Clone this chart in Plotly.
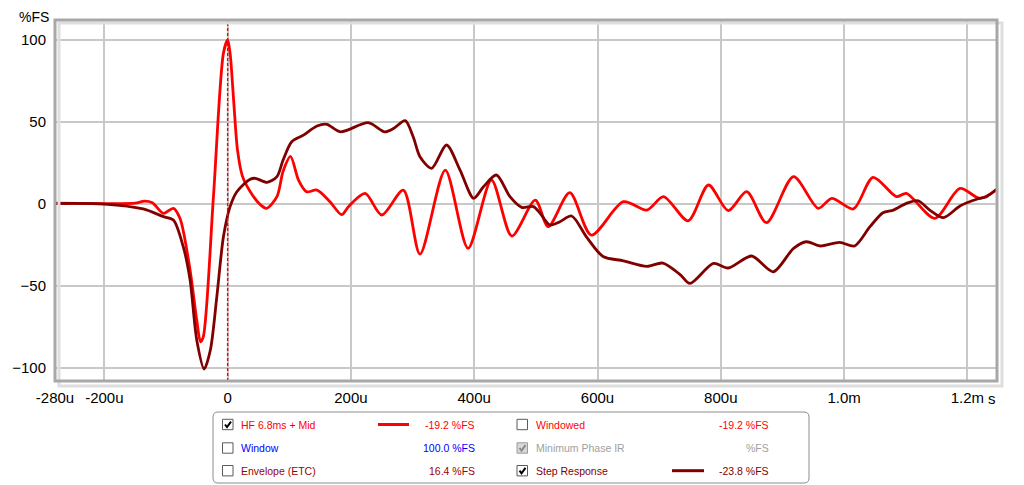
import plotly.graph_objects as go

# ---- data (time in microseconds, amplitude in %FS) ----
impulse_t = [-280, -200, -150, -135, -122, -104, -88, -77, -61, -50, -44, -39.5,
             -23, -6.8, 0, 4, 10, 16, 24, 36, 52, 63, 80, 90, 102, 115, 128, 145,
             166, 185, 196, 223, 250, 285, 312, 353, 390, 428, 461, 499, 520, 555,
             590, 642, 680, 707, 747, 780, 812, 842, 874, 918, 958, 980, 1015, 1047,
             1085, 1101, 1147, 1188, 1220, 1247]
impulse_v = [0.5, 0.3, 0.5, 1.8, 0.8, -5.7, -2.6, -9, -40, -71, -84, -81,
             4.5, 92, 100, 92, 62, 33, 17, 8, 0, -2.6, 4.5, 20, 29, 14.6, 7.5, 8.5,
             1.4, -6.5, -1.6, 6.5, -6.7, 8.5, -30.5, 20.7, -27, 14.6, -19.5, 2.4, -13.8, 6.9,
             -18.9, 1.4, -3.7, 4.5, -10.2, 11.6, -4, 7.5, -11.4, 16.7, -2.6, 3.5, -3, 16.3,
             4.5, 6.5, -8.7, 9.5, 3.5, 8.5]

step_t = [-280, -200, -137, -104, -88, -72, -61, -50, -38, -28, -17.5, -6.8, 4, 15,
          36, 45, 64, 80, 90, 104, 123, 145, 161, 183, 228, 255, 269, 288, 301, 312,
          331, 355, 377, 399, 415, 436, 458, 477, 496, 507, 523, 539, 558, 582, 609,
          642, 680, 706, 734, 750, 788, 812, 850, 885, 918, 939, 961, 993, 1017, 1042,
          1063, 1080, 1101, 1120, 1139, 1161, 1188, 1215, 1231, 1247]
step_v = [0.3, 0, -3, -7.7, -9.8, -26, -46, -83, -100.6, -89, -56.5, -20, -1.6, 7.5,
          15, 15.7, 13.2, 16.7, 26.8, 38, 42, 47.6, 48.6, 44, 49.6, 44, 46, 50.8, 41, 28.8,
          21.8, 36, 20.7, 3.5, 10.5, 17.7, 4.5, -2, -1.6, -5.7, -12.8, -10.8, -7.3, -20, -32,
          -34.6, -38, -36, -43, -48.4, -36.2, -39, -31.7, -41.3, -27, -23, -25.6, -23.4, -25.6, -13.8,
          -5.3, -3.7, 0.4, 2, -3.7, -8.3, -1.2, 2.9, 4.5, 9]

x_tickvals = [-280, -200, 0, 200, 400, 600, 800, 1000, 1200]
x_ticktext = ["-280u", "-200u", "0", "200u", "400u", "600u", "800u", "1.0m", "1.2m"]
y_tickvals = [-100, -50, 0, 50, 100]

legend_rows = [
    # name, value, color, checked, column
    ("HF 6.8ms + Mid", "-19.2 %FS", "#ff0000", True, 0),
    ("Window", "100.0 %FS", "#0000ff", False, 0),
    ("Envelope (ETC)", "16.4 %FS", "#a00000", False, 0),
    ("Windowed", "-19.2 %FS", "#ff0000", False, 1),
    ("Minimum Phase IR", "%FS", "#a0a0a0", True, 1),
    ("Step Response", "-23.8 %FS", "#800000", True, 1),
]

# the page body adds an 8px margin, so the figure is drawn 8px smaller
# and all screen positions below are given in window pixels
OFF = 8
W, H = 1024 - OFF, 485 - OFF
L, R, T, B = 55 - OFF, 27, 20 - OFF, 104
PW, PH = W - L - R, H - T - B
FONT = "Liberation Sans, Arial, sans-serif"


def px(x):
    return (x - OFF - L) / PW


def py(y):
    return (H - B - (y - OFF)) / PH


fig = go.Figure()
fig.add_trace(go.Scatter(x=impulse_t, y=impulse_v, mode="lines",
                         line=dict(color="#ff0000", width=2.8, shape="spline", smoothing=0.8),
                         hoverinfo="skip"))
fig.add_trace(go.Scatter(x=step_t, y=step_v, mode="lines",
                         line=dict(color="#800000", width=2.8, shape="spline", smoothing=0.8),
                         hoverinfo="skip"))

shapes = []
# hide the grid line under the cursor, then the cursor at t=0
shapes.append(dict(type="line", xref="x", yref="paper", x0=0, x1=0, y0=0, y1=1,
                   layer="below", line=dict(color="white", width=2)))
shapes.append(dict(type="line", xref="x", yref="paper", x0=0, x1=0, y0=0, y1=1,
                   line=dict(color="#ff0000", width=1.4, dash="3px,2px")))
# plot frame with soft shadow
shapes.append(dict(type="rect", xref="paper", yref="paper", x0=px(59), x1=px(1002),
                   y0=py(386), y1=py(23), line=dict(color="#dedede", width=3)))
shapes.append(dict(type="rect", xref="paper", yref="paper", x0=0, x1=1, y0=0, y1=1,
                   line=dict(color="#a8a8a8", width=3)))

# legend panel
bx0, bx1, by0, by1, r = 213, 809, 412, 483, 5
path = (f"M {px(bx0 + r)},{py(by0)} L {px(bx1 - r)},{py(by0)} "
        f"Q {px(bx1)},{py(by0)} {px(bx1)},{py(by0 + r)} L {px(bx1)},{py(by1 - r)} "
        f"Q {px(bx1)},{py(by1)} {px(bx1 - r)},{py(by1)} L {px(bx0 + r)},{py(by1)} "
        f"Q {px(bx0)},{py(by1)} {px(bx0)},{py(by1 - r)} L {px(bx0)},{py(by0 + r)} "
        f"Q {px(bx0)},{py(by0)} {px(bx0 + r)},{py(by0)} Z")
shapes.append(dict(type="path", xref="paper", yref="paper", path=path,
                   line=dict(color="#8c8c8c", width=1), fillcolor="white", layer="below"))

annotations = []
row_y = [424.5, 448, 470.7]
col_box = [222.5, 517]
col_text = [239, 533.5]
col_val = [476.5, 770.5]
for i, (name, val, color, checked, col) in enumerate(legend_rows):
    y = row_y[i % 3]
    cx = col_box[col]
    gray = name == "Minimum Phase IR"
    shapes.append(dict(type="rect", xref="paper", yref="paper",
                       x0=px(cx), x1=px(cx + 10.5), y0=py(y + 5.2), y1=py(y - 5.2),
                       line=dict(color="#9a9a9a" if gray else "#5a5a5a", width=1),
                       fillcolor="#d8d8d8" if gray else "white"))
    if checked:
        ck = (f"M {px(cx + 2.5)},{py(y)} L {px(cx + 4.5)},{py(y + 2.6)} "
              f"L {px(cx + 8.5)},{py(y - 2.8)}")
        shapes.append(dict(type="path", xref="paper", yref="paper", path=ck,
                           line=dict(color="#8a8a8a" if gray else "#000000", width=2)))
    annotations.append(dict(x=px(col_text[col]), y=py(y), xref="paper", yref="paper",
                            text=name, showarrow=False, xanchor="left", yanchor="middle",
                            font=dict(family=FONT, size=10.5, color=color)))
    annotations.append(dict(x=px(col_val[col]), y=py(y), xref="paper", yref="paper",
                            text=val, showarrow=False, xanchor="right", yanchor="middle",
                            font=dict(family=FONT, size=10.5, color=color)))

# legend line samples
shapes.append(dict(type="line", xref="paper", yref="paper", x0=px(378), x1=px(409),
                   y0=py(424.5), y1=py(424.5), line=dict(color="#ff0000", width=3)))
shapes.append(dict(type="line", xref="paper", yref="paper", x0=px(672), x1=px(704),
                   y0=py(470.7), y1=py(470.7), line=dict(color="#800000", width=3)))

# axis unit labels
annotations.append(dict(x=px(17), y=py(7), xref="paper", yref="paper", text="%FS",
                        showarrow=False, xanchor="left", yanchor="top",
                        font=dict(family=FONT, size=14, color="#000000")))
annotations.append(dict(x=px(986), y=py(398), xref="paper", yref="paper", text="s",
                        showarrow=False, xanchor="left", yanchor="middle",
                        font=dict(family=FONT, size=15, color="#000000")))

fig.update_layout(
    width=W, height=H,
    margin=dict(l=L, r=R, t=T, b=B, autoexpand=False),
    paper_bgcolor="white", plot_bgcolor="white",
    showlegend=False,
    shapes=shapes, annotations=annotations,
    font=dict(family=FONT, size=15, color="#000000"),
)
fig.update_xaxes(range=[-280, 1248], tickvals=x_tickvals, ticktext=x_ticktext,
                 showgrid=True, gridcolor="#c8c8c8", gridwidth=1.5, zeroline=False,
                 showline=False, ticks="", ticklabelstandoff=6, automargin=False,
                 tickfont=dict(family=FONT, size=15, color="#000000"))
fig.update_yaxes(range=[-107.9, 112.2], tickvals=y_tickvals,
                 showgrid=True, gridcolor="#c8c8c8", gridwidth=1.5, zeroline=False,
                 showline=False, ticks="", ticklabelstandoff=8, automargin=False,
                 tickfont=dict(family=FONT, size=15, color="#000000"))

fig.write_html("out.html")
